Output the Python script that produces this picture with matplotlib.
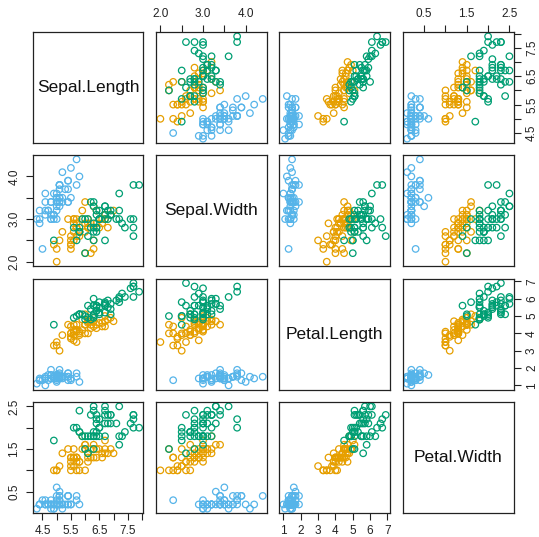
import numpy as np
import matplotlib
matplotlib.use("Agg")
import matplotlib.pyplot as plt

plt.rcParams['font.family'] = ['Liberation Sans', 'DejaVu Sans']

# iris, rows grouped by species (50 each)
sepal_length = [
    5.1, 4.9, 4.7, 4.6, 5.0, 5.4, 4.6, 5.0, 4.4, 4.9, 5.4, 4.8, 4.8, 4.3, 5.8, 5.7, 5.4, 5.1, 5.7, 5.1,
    5.4, 5.1, 4.6, 5.1, 4.8, 5.0, 5.0, 5.2, 5.2, 4.7, 4.8, 5.4, 5.2, 5.5, 4.9, 5.0, 5.5, 4.9, 4.4, 5.1,
    5.0, 4.5, 4.4, 5.0, 5.1, 4.8, 5.1, 4.6, 5.3, 5.0,
    7.0, 6.4, 6.9, 5.5, 6.5, 5.7, 6.3, 4.9, 6.6, 5.2, 5.0, 5.9, 6.0, 6.1, 5.6, 6.7, 5.6, 5.8, 6.2, 5.6,
    5.9, 6.1, 6.3, 6.1, 6.4, 6.6, 6.8, 6.7, 6.0, 5.7, 5.5, 5.5, 5.8, 6.0, 5.4, 6.0, 6.7, 6.3, 5.6, 5.5,
    5.5, 6.1, 5.8, 5.0, 5.6, 5.7, 5.7, 6.2, 5.1, 5.7,
    6.3, 5.8, 7.1, 6.3, 6.5, 7.6, 4.9, 7.3, 6.7, 7.2, 6.5, 6.4, 6.8, 5.7, 5.8, 6.4, 6.5, 7.7, 7.7, 6.0,
    6.9, 5.6, 7.7, 6.3, 6.7, 7.2, 6.2, 6.1, 6.4, 7.2, 7.4, 7.9, 6.4, 6.3, 6.1, 7.7, 6.3, 6.4, 6.0, 6.9,
    6.7, 6.9, 5.8, 6.8, 6.7, 6.7, 6.3, 6.5, 6.2, 5.9]
sepal_width = [
    3.5, 3.0, 3.2, 3.1, 3.6, 3.9, 3.4, 3.4, 2.9, 3.1, 3.7, 3.4, 3.0, 3.0, 4.0, 4.4, 3.9, 3.5, 3.8, 3.8,
    3.4, 3.7, 3.6, 3.3, 3.4, 3.0, 3.4, 3.5, 3.4, 3.2, 3.1, 3.4, 4.1, 4.2, 3.1, 3.2, 3.5, 3.6, 3.0, 3.4,
    3.5, 2.3, 3.2, 3.5, 3.8, 3.0, 3.8, 3.2, 3.7, 3.3,
    3.2, 3.2, 3.1, 2.3, 2.8, 2.8, 3.3, 2.4, 2.9, 2.7, 2.0, 3.0, 2.2, 2.9, 2.9, 3.1, 3.0, 2.7, 2.2, 2.5,
    3.2, 2.8, 2.5, 2.8, 2.9, 3.0, 2.8, 3.0, 2.9, 2.6, 2.4, 2.4, 2.7, 2.7, 3.0, 3.4, 3.1, 2.3, 3.0, 2.5,
    2.6, 3.0, 2.6, 2.3, 2.7, 3.0, 2.9, 2.9, 2.5, 2.8,
    3.3, 2.7, 3.0, 2.9, 3.0, 3.0, 2.5, 2.9, 2.5, 3.6, 3.2, 2.7, 3.0, 2.5, 2.8, 3.2, 3.0, 3.8, 2.6, 2.2,
    3.2, 2.8, 2.8, 2.7, 3.3, 3.2, 2.8, 3.0, 2.8, 3.0, 2.8, 3.8, 2.8, 2.8, 2.6, 3.0, 3.4, 3.1, 3.0, 3.1,
    3.1, 3.1, 2.7, 3.2, 3.3, 3.0, 2.5, 3.0, 3.4, 3.0]
petal_length = [
    1.4, 1.4, 1.3, 1.5, 1.4, 1.7, 1.4, 1.5, 1.4, 1.5, 1.5, 1.6, 1.4, 1.1, 1.2, 1.5, 1.3, 1.4, 1.7, 1.5,
    1.7, 1.5, 1.0, 1.7, 1.9, 1.6, 1.6, 1.5, 1.4, 1.6, 1.6, 1.5, 1.5, 1.4, 1.5, 1.2, 1.3, 1.4, 1.3, 1.5,
    1.3, 1.3, 1.3, 1.6, 1.9, 1.4, 1.6, 1.4, 1.5, 1.4,
    4.7, 4.5, 4.9, 4.0, 4.6, 4.5, 4.7, 3.3, 4.6, 3.9, 3.5, 4.2, 4.0, 4.7, 3.6, 4.4, 4.5, 4.1, 4.5, 3.9,
    4.8, 4.0, 4.9, 4.7, 4.3, 4.4, 4.8, 5.0, 4.5, 3.5, 3.8, 3.7, 3.9, 5.1, 4.5, 4.5, 4.7, 4.4, 4.1, 4.0,
    4.4, 4.6, 4.0, 3.3, 4.2, 4.2, 4.2, 4.3, 3.0, 4.1,
    6.0, 5.1, 5.9, 5.6, 5.8, 6.6, 4.5, 6.3, 5.8, 6.1, 5.1, 5.3, 5.5, 5.0, 5.1, 5.3, 5.5, 6.7, 6.9, 5.0,
    5.7, 4.9, 6.7, 4.9, 5.7, 6.0, 4.8, 4.9, 5.6, 5.8, 6.1, 6.4, 5.6, 5.1, 5.6, 6.1, 5.6, 5.5, 4.8, 5.4,
    5.6, 5.1, 5.1, 5.9, 5.7, 5.2, 5.0, 5.2, 5.4, 5.1]
petal_width = [
    0.2, 0.2, 0.2, 0.2, 0.2, 0.4, 0.3, 0.2, 0.2, 0.1, 0.2, 0.2, 0.1, 0.1, 0.2, 0.4, 0.4, 0.3, 0.3, 0.3,
    0.2, 0.4, 0.2, 0.5, 0.2, 0.2, 0.4, 0.2, 0.2, 0.2, 0.2, 0.4, 0.1, 0.2, 0.2, 0.2, 0.2, 0.1, 0.2, 0.2,
    0.3, 0.3, 0.2, 0.6, 0.4, 0.3, 0.2, 0.2, 0.2, 0.2,
    1.4, 1.5, 1.5, 1.3, 1.5, 1.3, 1.6, 1.0, 1.3, 1.4, 1.0, 1.5, 1.0, 1.4, 1.3, 1.4, 1.5, 1.0, 1.5, 1.1,
    1.8, 1.3, 1.5, 1.2, 1.3, 1.4, 1.4, 1.7, 1.5, 1.0, 1.1, 1.0, 1.2, 1.6, 1.5, 1.6, 1.5, 1.3, 1.3, 1.3,
    1.2, 1.4, 1.2, 1.0, 1.3, 1.2, 1.3, 1.3, 1.1, 1.3,
    2.5, 1.9, 2.1, 1.8, 2.2, 2.1, 1.7, 1.8, 1.8, 2.5, 2.0, 1.9, 2.1, 2.0, 2.4, 2.3, 1.8, 2.2, 2.3, 1.5,
    2.3, 2.0, 2.0, 1.8, 2.1, 1.8, 1.8, 1.8, 2.1, 1.6, 1.9, 2.0, 2.2, 1.5, 1.4, 2.3, 2.4, 1.8, 1.8, 2.1,
    2.4, 2.3, 1.9, 2.3, 2.5, 2.3, 1.9, 2.0, 2.3, 1.8]
species = ['setosa'] * 50 + ['versicolor'] * 50 + ['virginica'] * 50

var_names = ['Sepal.Length', 'Sepal.Width', 'Petal.Length', 'Petal.Width']
species_colors = {'setosa': '#56B4E9', 'versicolor': '#E69F00', 'virginica': '#009E73'}

# tick positions and which of them carry a label
ticks = [
    [4.5, 5.0, 5.5, 6.0, 6.5, 7.0, 7.5, 8.0],
    [2.0, 2.5, 3.0, 3.5, 4.0],
    [1, 2, 3, 4, 5, 6, 7],
    [0.5, 1.0, 1.5, 2.0, 2.5],
]
tick_labels = [
    ['4.5', '', '5.5', '', '6.5', '', '7.5', ''],
    ['2.0', '', '3.0', '', '4.0'],
    ['1', '2', '3', '4', '5', '6', '7'],
    ['0.5', '', '1.5', '', '2.5'],
]

data = np.array([sepal_length, sepal_width, petal_length, petal_width])
colors = [species_colors[s] for s in species]

W, H = 539, 537
fig = plt.figure(figsize=(W / 100, H / 100), dpi=100)

lefts = [32.7, 156.3, 279.3, 403.0]
tops = [32.3, 155.3, 279.0, 402.3]
size = 110.5

n = len(var_names)
for i in range(n):
    for j in range(n):
        ax = fig.add_axes([lefts[j] / W, (H - tops[i] - size) / H, size / W, size / H])
        for sp in ax.spines.values():
            sp.set_linewidth(0.9)
            sp.set_color('#222222')
        ax.set_xticks([])
        ax.set_yticks([])

        xr = data[j].min(), data[j].max()
        yr = data[i].min(), data[i].max()
        px = (xr[1] - xr[0]) * 0.04
        py = (yr[1] - yr[0]) * 0.04
        ax.set_xlim(xr[0] - px, xr[1] + px)
        ax.set_ylim(yr[0] - py, yr[1] + py)

        if i == j:
            ax.text(0.5, 0.5, var_names[i], transform=ax.transAxes,
                    ha='center', va='center', fontsize=12.5, color='#111111')
        else:
            ax.scatter(data[j], data[i], s=22, facecolors='none',
                       edgecolors=colors, linewidths=0.9)

        tick_kw = dict(length=5, width=0.8, color='#222222', labelsize=8.5,
                       labelcolor='#222222', pad=4)
        # R pairs() puts axes alternately on the outer edges
        if i == 0 and j % 2 == 1:
            ax.set_xticks(ticks[j], tick_labels[j])
            ax.xaxis.tick_top()
            ax.tick_params(axis='x', **tick_kw)
        if i == n - 1 and j % 2 == 0:
            ax.set_xticks(ticks[j], tick_labels[j])
            ax.tick_params(axis='x', **tick_kw)
        if j == 0 and i % 2 == 1:
            ax.set_yticks(ticks[i], tick_labels[i])
            ax.tick_params(axis='y', **tick_kw)
            for t in ax.get_yticklabels():
                t.set_rotation(90)
                t.set_va('center')
        if j == n - 1 and i % 2 == 0:
            ax.set_yticks(ticks[i], tick_labels[i])
            ax.yaxis.tick_right()
            ax.tick_params(axis='y', **tick_kw)
            for t in ax.get_yticklabels():
                t.set_rotation(90)
                t.set_va('center')

fig.savefig('out.png', dpi=100)
